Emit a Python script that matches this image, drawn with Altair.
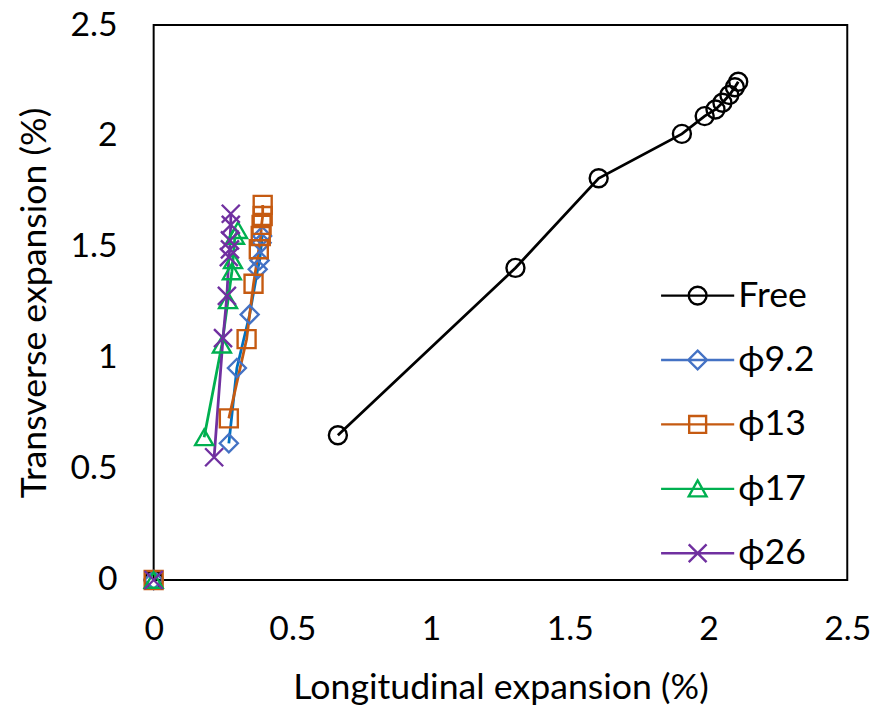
import altair as alt
import pandas as pd

series_names = ["Free", "ϕ9.2", "ϕ13", "ϕ17", "ϕ26"]

free_x = [0, 0.664, 1.304, 1.604, 1.904, 1.986, 2.025, 2.05, 2.075, 2.095, 2.107]
free_y = [0, 0.652, 1.406, 1.81, 2.01, 2.09, 2.12, 2.15, 2.185, 2.22, 2.245]

d92_x = [0, 0.271, 0.300, 0.346, 0.375, 0.382, 0.389, 0.391]
d92_y = [0, 0.616, 0.955, 1.196, 1.40, 1.44, 1.52, 1.55]

d13_x = [0, 0.271, 0.335, 0.360, 0.379, 0.386, 0.389, 0.393, 0.393]
d13_y = [0, 0.728, 1.085, 1.335, 1.49, 1.55, 1.60, 1.64, 1.69]

d17_x = [0, 0.182, 0.246, 0.268, 0.282, 0.286, 0.293, 0.304]
d17_y = [0, 0.643, 1.06, 1.26, 1.39, 1.44, 1.55, 1.576]

d26_x = [0, 0.218, 0.250, 0.264, 0.271, 0.275, 0.275, 0.278, 0.278]
d26_y = [0, 0.553, 1.09, 1.28, 1.455, 1.49, 1.53, 1.60, 1.65]

tick_values = [0, 0.5, 1, 1.5, 2, 2.5]

line_colors = ["#000000", "#0070C0", "#C55A11", "#00B050", "#7030A0"]
marker_colors = ["#000000", "#4472C4", "#C55A11", "#00B050", "#7030A0"]
line_widths = [2.8, 2.8, 2.8, 2.8, 1.8]

marker_shapes = [
    "circle",
    "diamond",
    "square",
    "triangle-up",
    "M-1,-1L1,1M-1,1L1,-1",
]
L = "M-4.1,0L4.1,0"
legend_shapes = [
    L + "M-1,0A1,1 0 1,1 1,0A1,1 0 1,1 -1,0Z",
    L + "M0,-1.05L1.05,0L0,1.05L-1.05,0Z",
    L + "M-0.95,-0.95L0.95,-0.95L0.95,0.95L-0.95,0.95Z",
    L + "M-1,0.85L1,0.85L0,-0.95Z",
    L + "M-1,-1L1,1M-1,1L1,-1",
]

rows = []
for name, xs, ys in zip(series_names,
                        [free_x, d92_x, d13_x, d17_x, d26_x],
                        [free_y, d92_y, d13_y, d17_y, d26_y]):
    for i, (xv, yv) in enumerate(zip(xs, ys)):
        rows.append({"series": name, "idx": i, "x": xv, "y": yv})
df = pd.DataFrame(rows)

FONT = "Lato"

x_enc = alt.X("x:Q", scale=alt.Scale(domain=[0, 2.5], nice=False, zero=False),
              axis=alt.Axis(values=tick_values, labelExpr="datum.value",
                            title="Longitudinal expansion (%)",
                            titleX=350, titleY=109, titleBaseline="middle",
                            titleAlign="center", labelFlush=False,
                            labelPadding=33, labelBaseline="top"))
y_enc = alt.Y("y:Q", scale=alt.Scale(domain=[0, 2.5], nice=False, zero=False),
              axis=alt.Axis(values=tick_values, labelExpr="datum.value",
                            title="Transverse expansion (%)",
                            titleAngle=-90, titleX=-120, titleY=280,
                            titleBaseline="middle", titleAlign="center",
                            labelFlush=False, labelPadding=37))

base = alt.Chart(df)

lines = base.transform_filter("datum.idx > 0").mark_line().encode(
    x=x_enc, y=y_enc,
    color=alt.Color("series:N", scale=alt.Scale(domain=series_names, range=line_colors), legend=None),
    strokeWidth=alt.StrokeWidth("series:N", scale=alt.Scale(domain=series_names, range=line_widths), legend=None),
    order="idx:Q",
)

points = base.mark_point(filled=False, strokeWidth=2.4, size=330, opacity=1).encode(
    x=x_enc, y=y_enc,
    color=alt.Color("series:N", scale=alt.Scale(domain=series_names, range=marker_colors), legend=None),
    shape=alt.Shape("series:N", scale=alt.Scale(domain=series_names, range=marker_shapes), legend=None),
)

leg = alt.Legend(title=None, orient="none", legendX=531, legendY=255,
                 padding=0, symbolOffset=0, labelOffset=23,
                 rowPadding=29, labelFont=FONT, labelFontSize=36,
                 labelColor="black", symbolStrokeWidth=2.4,
                 symbolSize=324, labelBaseline="middle")

legend_layer = base.transform_filter("false").mark_point(filled=False, strokeWidth=2.4, size=324, opacity=1).encode(
    x=x_enc, y=y_enc,
    color=alt.Color("series:N", scale=alt.Scale(domain=series_names, range=marker_colors), legend=leg),
    shape=alt.Shape("series:N", scale=alt.Scale(domain=series_names, range=legend_shapes), legend=leg),
)

chart = alt.layer(lines, points, legend_layer).resolve_scale(
    color="independent", shape="independent", strokeWidth="independent"
).properties(
    width=700, height=560,
    padding={"left": 147, "top": 14, "right": 29, "bottom": 136},
    autosize=alt.AutoSizeParams(type="none"),
).configure_view(
    stroke="black", strokeWidth=2
).configure_axis(
    grid=False, ticks=False, domain=False,
    labelFont=FONT, labelFontSize=34, labelColor="black",
    titleFont=FONT, titleFontSize=36, titleColor="black", titleFontWeight="normal",
)

chart.save("out.html", embed_options={"renderer": "svg", "actions": False})
